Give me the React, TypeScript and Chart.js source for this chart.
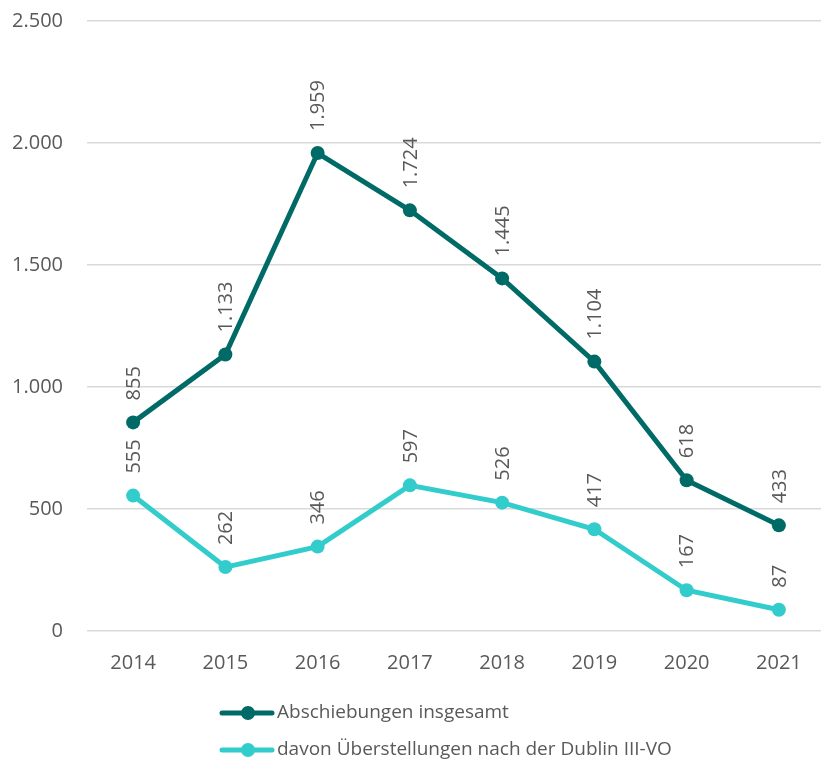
import React, { useEffect, useRef } from "react";
import { Chart, registerables } from "chart.js";

Chart.register(...registerables);

const categories = ["2014", "2015", "2016", "2017", "2018", "2019", "2020", "2021"];
const seriesNames = ["Abschiebungen insgesamt", "davon Überstellungen nach der Dublin III-VO"];
const totalValues = [855, 1133, 1959, 1724, 1445, 1104, 618, 433];
const dublinValues = [555, 262, 346, 597, 526, 417, 167, 87];
const seriesColors = ["#006B66", "#33CCCC"];
const yMax = 2500;
const yStep = 500;

const FONT = "'Open Sans', 'DejaVu Sans', sans-serif";
const TEXT = "#595959";

function fmt(v: number): string {
  const s = Math.round(v).toString();
  return s.replace(/\B(?=(\d{3})+(?!\d))/g, ".");
}

const labelPlugin = {
  id: "rotLabels",
  afterDatasetsDraw(chart: any) {
    const ctx = chart.ctx;
    ctx.save();
    ctx.font = `20px ${FONT}`;
    ctx.fillStyle = TEXT;
    chart.data.datasets.forEach((ds: any, i: number) => {
      const meta = chart.getDatasetMeta(i);
      meta.data.forEach((pt: any, j: number) => {
        ctx.save();
        ctx.translate(pt.x, pt.y - 22);
        ctx.rotate(-Math.PI / 2);
        ctx.textAlign = "left";
        ctx.textBaseline = "middle";
        ctx.fillText(fmt(ds.data[j]), 0, 1);
        ctx.restore();
      });
    });
    ctx.restore();
  },
};

const legendPlugin = {
  id: "stackLegend",
  afterDraw(chart: any) {
    const ctx = chart.ctx;
    ctx.save();
    const rows = [713, 750];
    chart.data.datasets.forEach((ds: any, i: number) => {
      const y = rows[i];
      ctx.strokeStyle = ds.borderColor;
      ctx.lineWidth = 5;
      ctx.lineCap = "round";
      ctx.beginPath();
      ctx.moveTo(222, y);
      ctx.lineTo(272, y);
      ctx.stroke();
      ctx.fillStyle = ds.borderColor;
      ctx.beginPath();
      ctx.arc(248, y, 7, 0, Math.PI * 2);
      ctx.fill();
      ctx.fillStyle = TEXT;
      ctx.font = `19px ${FONT}`;
      ctx.textAlign = "left";
      ctx.textBaseline = "middle";
      ctx.fillText(ds.label, 277, y);
    });
    ctx.restore();
  },
};

export default function App() {
  const ref = useRef<HTMLCanvasElement>(null);
  useEffect(() => {
    if (!ref.current) return;
    const chart = new Chart(ref.current, {
      type: "line",
      data: {
        labels: categories,
        datasets: [
          {
            label: seriesNames[0],
            data: totalValues,
            borderColor: seriesColors[0],
            backgroundColor: seriesColors[0],
            borderWidth: 5,
            pointRadius: 7,
            pointHoverRadius: 7,
            pointBorderWidth: 0,
            tension: 0,
          },
          {
            label: seriesNames[1],
            data: dublinValues,
            borderColor: seriesColors[1],
            backgroundColor: seriesColors[1],
            borderWidth: 5,
            pointRadius: 7,
            pointHoverRadius: 7,
            pointBorderWidth: 0,
            tension: 0,
          },
        ],
      },
      options: {
        responsive: false,
        animation: false,
        devicePixelRatio: 1,
        layout: { padding: { top: 21, right: 0, bottom: 89, left: 0 } },
        plugins: {
          legend: { display: false },
          tooltip: { enabled: false },
        },
        scales: {
          x: {
            offset: true,
            grid: {
              display: true,
              color: "rgba(0,0,0,0)",
              drawOnChartArea: false,
              drawTicks: true,
              tickLength: 20,
              tickColor: "rgba(0,0,0,0)",
            },
            border: { display: false },
            ticks: {
              color: TEXT,
              font: { family: FONT, size: 20 },
              padding: 0,
              maxRotation: 0,
            },
          },
          y: {
            min: 0,
            max: yMax,
            grid: {
              color: "#D9D9D9",
              lineWidth: 1.5,
              drawTicks: true,
              tickLength: 24,
              tickColor: "rgba(0,0,0,0)",
            },
            border: { display: false },
            ticks: {
              stepSize: yStep,
              color: TEXT,
              font: { family: FONT, size: 20 },
              padding: 0,
              callback: (v: any) => fmt(Number(v)),
            },
            afterFit: (scale: any) => {
              scale.width = 87;
            },
          },
        },
      },
      plugins: [labelPlugin, legendPlugin],
    });
    return () => chart.destroy();
  }, []);
  return (
    <div style={{ position: "fixed", left: 0, top: 0, width: 821, height: 764, overflow: "hidden", background: "#fff" }}>
      <canvas ref={ref} width={832} height={764} style={{ display: "block" }} />
    </div>
  );
}
